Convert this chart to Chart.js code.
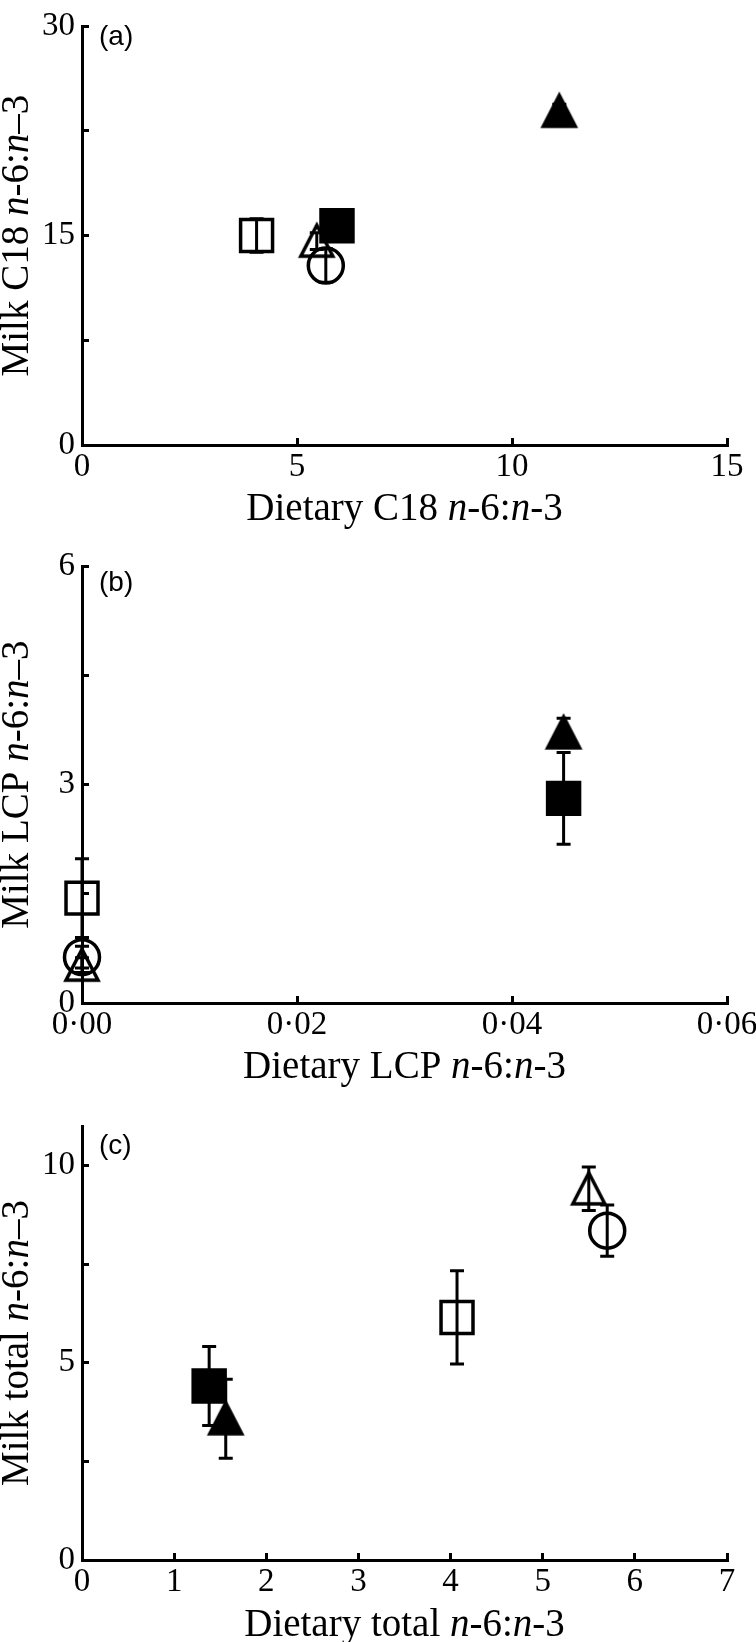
<!DOCTYPE html>
<html>
<head>
<meta charset="utf-8">
<title>Milk vs dietary n-6:n-3</title>
<script src="https://cdn.jsdelivr.net/npm/chart.js@4.4.1/dist/chart.umd.min.js"></script>
<style>
  body { margin: 0; background: #fff; }
  #page { position: relative; width: 756px; height: 1642px; }
  canvas { position: absolute; left: 0; }
</style>
</head>
<body>
<div id="page">
  <canvas id="chart-a" width="756" height="540" style="top:0"></canvas>
  <canvas id="chart-b" width="756" height="560" style="top:540px"></canvas>
  <canvas id="chart-c" width="756" height="542" style="top:1100px"></canvas>
</div>
<script>
// one symbol per diet, same order in every panel
const groups = ['openSquare', 'filledSquare', 'openTriangle', 'filledTriangle', 'openCircle'];

// (a) C18
const c18Diet = [4.06, 5.93, 5.46, 11.1, 5.67];
const c18Milk = [15.0, 15.7, 14.6, 23.9, 12.85];
const c18Err  = [1.2, 0.8, 0.6, 0.5, 1.2];
const xTicksA = [0, 5, 10, 15];
const yTicksA = [0, 7.5, 15, 22.5, 30];
const yLabelsA = [0, 15, 30];

// (b) LCP
const lcpDiet = [0, 0.0448, 0, 0.0448, 0];
const lcpMilk = [1.44, 2.81, 0.52, 3.71, 0.63];
const lcpErr  = [0.54, 0.63, 0.1, 0.2, 0.15];
const xTicksB = [0, 0.02, 0.04, 0.06];
const yTicksB = [0, 1.5, 3, 4.5, 6];
const yLabelsB = [0, 3, 6];

// (c) total
const totDiet = [4.07, 1.38, 5.50, 1.56, 5.70];
const totMilk = [6.15, 4.41, 9.41, 3.58, 8.35];
const totErr  = [1.18, 1.0, 0.55, 1.0, 0.65];
const xTicksC = [0, 1, 2, 3, 4, 5, 6, 7];
const yTicksC = [0, 2.5, 5, 7.5, 10];
const yLabelsC = [0, 5, 10];

const serif = "'Liberation Serif', 'Times New Roman', serif";
const sans = "'Liberation Sans', Arial, sans-serif";

function makeTriangle(filled) {
  const c = document.createElement('canvas');
  c.width = 42;
  c.height = 42;
  const g = c.getContext('2d');
  g.beginPath();
  g.moveTo(21, 5);
  g.lineTo(37, 36);
  g.lineTo(5, 36);
  g.closePath();
  g.lineWidth = 3.5;
  g.strokeStyle = '#000';
  g.stroke();
  if (filled) {
    g.fillStyle = '#000';
    g.fill();
  }
  return c;
}

const markerStyles = {
  openSquare: { pointStyle: 'rect', pointRadius: 22.6, backgroundColor: 'rgba(0,0,0,0)' },
  filledSquare: { pointStyle: 'rect', pointRadius: 22.6, backgroundColor: '#000' },
  openTriangle: { pointStyle: makeTriangle(false), pointRadius: 17 },
  filledTriangle: { pointStyle: makeTriangle(true), pointRadius: 17 },
  openCircle: { pointStyle: 'circle', pointRadius: 17.5, backgroundColor: 'rgba(0,0,0,0)' }
};

// vertical SE bars, drawn under the symbols
const errorBars = {
  id: 'errorBars',
  beforeDatasetsDraw(chart) {
    const ctx = chart.ctx;
    const y = chart.scales.y;
    ctx.save();
    ctx.strokeStyle = '#000';
    ctx.lineWidth = 3;
    chart.data.datasets.forEach((ds, i) => {
      chart.getDatasetMeta(i).data.forEach((pt, j) => {
        const v = ds.data[j].y;
        const top = y.getPixelForValue(v + ds.err);
        const bot = y.getPixelForValue(v - ds.err);
        ctx.beginPath();
        ctx.moveTo(pt.x, top); ctx.lineTo(pt.x, bot);
        ctx.moveTo(pt.x - 7, top); ctx.lineTo(pt.x + 7, top);
        ctx.moveTo(pt.x - 7, bot); ctx.lineTo(pt.x + 7, bot);
        ctx.stroke();
      });
    });
    ctx.restore();
  }
};

// axis titles with italic n, and the panel letter
function drawRich(ctx, parts, size) {
  const fonts = parts.map(p => (p.i ? 'italic ' : '') + size + 'px ' + serif);
  const widths = parts.map((p, k) => { ctx.font = fonts[k]; return ctx.measureText(p.t).width; });
  let x = -widths.reduce((a, b) => a + b, 0) / 2;
  parts.forEach((p, k) => {
    ctx.font = fonts[k];
    ctx.fillText(p.t, x, 0);
    x += widths[k];
  });
}

const panelText = {
  id: 'panelText',
  afterDraw(chart, args, opts) {
    const ctx = chart.ctx;
    const area = chart.chartArea;
    ctx.save();
    ctx.fillStyle = '#000';
    ctx.textBaseline = 'middle';
    ctx.textAlign = 'left';

    ctx.font = '28px ' + sans;
    ctx.fillText(opts.letter, area.left + 17, opts.letterY);

    ctx.save();
    ctx.translate((area.left + area.right) / 2, opts.xTitleY);
    drawRich(ctx, opts.xTitle, 39);
    ctx.restore();

    ctx.save();
    ctx.translate(18, (area.top + area.bottom) / 2);
    ctx.rotate(-Math.PI / 2);
    drawRich(ctx, opts.yTitle, 39);
    ctx.restore();

    ctx.restore();
  }
};

function ratio(label, dash) {
  return [{ t: label + ' ' }, { t: 'n', i: true }, { t: '-6:' }, { t: 'n', i: true }, { t: dash + '3' }];
}

const tickFont = { family: serif, size: 33 };
const gridOpts = { drawOnChartArea: false, tickLength: -7, tickWidth: 3, tickColor: '#000' };
const borderOpts = { display: true, width: 3, color: '#000' };

function makeChart(id, p) {
  const datasets = groups.map((g, i) => Object.assign({
    label: g,
    data: [{ x: p.diet[i], y: p.milk[i] }],
    err: p.err[i],
    borderColor: '#000',
    borderWidth: 3.5,
    clip: false
  }, markerStyles[g]));

  return new Chart(document.getElementById(id), {
    type: 'scatter',
    data: { datasets },
    options: {
      responsive: false,
      animation: false,
      devicePixelRatio: 1,
      events: [],
      layout: { padding: { top: p.top, right: 29, left: 0, bottom: 0 } },
      plugins: {
        legend: { display: false },
        tooltip: { enabled: false },
        panelText: { letter: p.letter, letterY: p.letterY, xTitleY: p.xTitleY, xTitle: p.xTitle, yTitle: p.yTitle }
      },
      scales: {
        x: {
          type: 'linear',
          min: p.xTicks[0],
          max: p.xTicks[p.xTicks.length - 1],
          afterBuildTicks: s => { s.ticks = p.xTicks.map(v => ({ value: v })); },
          afterFit: s => { s.height = p.h - p.bottom; s.paddingLeft = 0; s.paddingRight = 0; },
          ticks: { font: tickFont, color: '#000', padding: 10, maxRotation: 0, autoSkip: false, callback: p.xFmt },
          grid: gridOpts,
          border: borderOpts
        },
        y: {
          type: 'linear',
          min: 0,
          max: p.yMax,
          afterBuildTicks: s => { s.ticks = p.yTicks.map(v => ({ value: v })); },
          afterFit: s => { s.width = 82; s.paddingTop = 0; s.paddingBottom = 0; },
          ticks: {
            font: tickFont, color: '#000', padding: 14, autoSkip: false,
            callback: v => p.yLabels.includes(v) ? String(v) : ''
          },
          grid: gridOpts,
          border: borderOpts
        }
      }
    },
    plugins: [errorBars, panelText]
  });
}

makeChart('chart-a', {
  diet: c18Diet, milk: c18Milk, err: c18Err,
  xTicks: xTicksA, yTicks: yTicksA, yLabels: yLabelsA, yMax: 30,
  xFmt: v => String(v),
  h: 540, top: 10, bottom: 445,
  letter: '(a)', letterY: 37, xTitleY: 510,
  xTitle: ratio('Dietary C18', '-'), yTitle: ratio('Milk C18', '–')
});

makeChart('chart-b', {
  diet: lcpDiet, milk: lcpMilk, err: lcpErr,
  xTicks: xTicksB, yTicks: yTicksB, yLabels: yLabelsB, yMax: 6,
  xFmt: v => v.toFixed(2).replace('.', '·'),
  h: 560, top: 25, bottom: 463,
  letter: '(b)', letterY: 43, xTitleY: 528,
  xTitle: ratio('Dietary LCP', '-'), yTitle: ratio('Milk LCP', '–')
});

makeChart('chart-c', {
  diet: totDiet, milk: totMilk, err: totErr,
  xTicks: xTicksC, yTicks: yTicksC, yLabels: yLabelsC, yMax: 11,
  xFmt: v => String(v),
  h: 542, top: 21, bottom: 460,
  letter: '(c)', letterY: 46, xTitleY: 526,
  xTitle: ratio('Dietary total', '-'), yTitle: ratio('Milk total', '–')
});
</script>
</body>
</html>
